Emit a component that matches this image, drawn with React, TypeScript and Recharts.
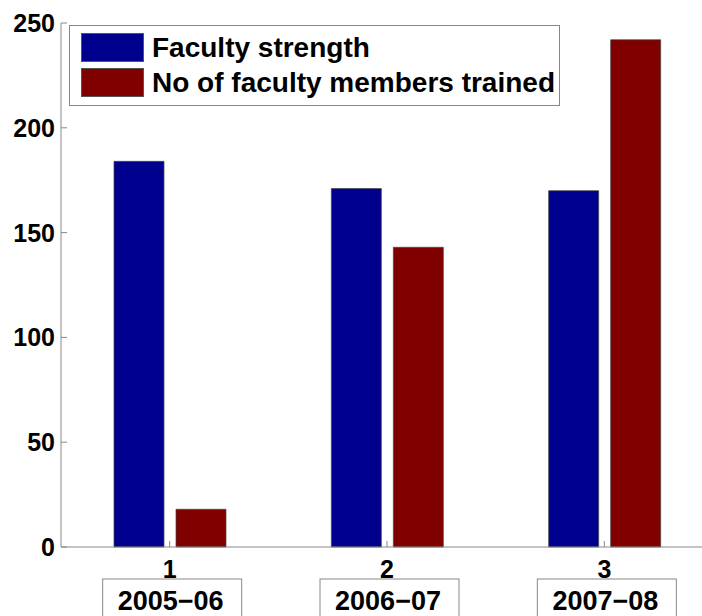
import { BarChart, Bar, XAxis, YAxis, Legend } from 'recharts';

const groups = ['1', '2', '3'];
const years = ['2005\u221206', '2006\u221207', '2007\u221208'];
const strength = [184, 171, 170];
const trained = [18, 143, 242];
const yTicks = [0, 50, 100, 150, 200, 250];

const data = groups.map((g, i) => ({
    group: g,
    year: years[i],
    strength: strength[i],
    trained: trained[i],
}));

const FONT = '"Liberation Sans", Arial, Helvetica, sans-serif';
const AXIS = '#888';

const YTick = ({ x, y, payload }: any) => (
    <g>
        <line x1={x} x2={x + 6} y1={y} y2={y} stroke={AXIS} />
        <text x={x - 6} y={y} dy={9} textAnchor="end" fontFamily={FONT} fontWeight="bold" fontSize={25} fill="#000">
            {payload.value}
        </text>
    </g>
);

// tick number plus the boxed academic year under it
const XTick = ({ x, y, payload, index }: any) => (
    <g>
        <line x1={x} x2={x} y1={y} y2={y - 6} stroke={AXIS} />
        <text x={x} y={y + 31} textAnchor="middle" fontFamily={FONT} fontWeight="bold" fontSize={25} fill="#000">
            {payload.value}
        </text>
        <rect x={x - 67} y={y + 32} width={139} height={42} fill="#fff" stroke={AXIS} />
        <text x={x + 1} y={y + 63} textAnchor="middle" fontFamily={FONT} fontWeight="bold" fontSize={27} fill="#000">
            {years[index]}
        </text>
    </g>
);

const TopTick = ({ x, y }: any) => <line x1={x} x2={x} y1={y} y2={y + 6} stroke={AXIS} />;

const LegendBox = ({ payload }: any) => (
    <div
        style={{
            width: 491,
            height: 81,
            boxSizing: 'border-box',
            border: `1px solid ${AXIS}`,
            background: '#fff',
            padding: '4px 0 0 11px',
        }}
    >
        {(payload || []).map((p: any) => (
            <div key={p.value} style={{ display: 'flex', alignItems: 'center', height: 35 }}>
                <span
                    style={{
                        display: 'inline-block',
                        width: 63,
                        height: 29,
                        boxSizing: 'border-box',
                        background: p.color,
                        border: '1px solid #555',
                    }}
                />
                <span style={{ marginLeft: 8, fontFamily: FONT, fontWeight: 'bold', fontSize: 28, color: '#000', lineHeight: '35px' }}>
                    {p.value}
                </span>
            </div>
        ))}
    </div>
);

const App = () => {
    return (
        <div style={{ position: 'absolute', left: 0, top: 0, width: 702, height: 616, overflow: 'hidden', background: '#fff' }}>
            <BarChart width={720} height={616} data={data} margin={{ top: 23, right: 7, bottom: 0, left: 0 }} barSize={50} barGap={12}>
                <XAxis
                    dataKey="group"
                    height={69}
                    axisLine={{ stroke: AXIS }}
                    tickLine={false}
                    tickSize={0}
                    tickMargin={0}
                    tick={<XTick />}
                    interval={0}
                />
                <XAxis
                    xAxisId="top"
                    dataKey="group"
                    orientation="top"
                    height={0}
                    axisLine={{ stroke: AXIS }}
                    tickLine={false}
                    tickSize={0}
                    tickMargin={0}
                    tick={<TopTick />}
                    interval={0}
                />
                <YAxis
                    width={61}
                    domain={[0, 250]}
                    ticks={yTicks}
                    axisLine={{ stroke: AXIS }}
                    tickLine={false}
                    tickSize={0}
                    tickMargin={0}
                    tick={<YTick />}
                    interval={0}
                />
                <Legend
                    layout="vertical"
                    align="center"
                    verticalAlign="middle"
                    content={<LegendBox />}
                    wrapperStyle={{ left: 69, top: 25, width: 491, height: 81 }}
                />
                <Bar dataKey="strength" name="Faculty strength" fill="#00008F" stroke="#444" strokeWidth={0.7} isAnimationActive={false} />
                <Bar dataKey="trained" name="No of faculty members trained" fill="#800000" stroke="#444" strokeWidth={0.7} isAnimationActive={false} />
            </BarChart>
        </div>
    );
};

export default App;
